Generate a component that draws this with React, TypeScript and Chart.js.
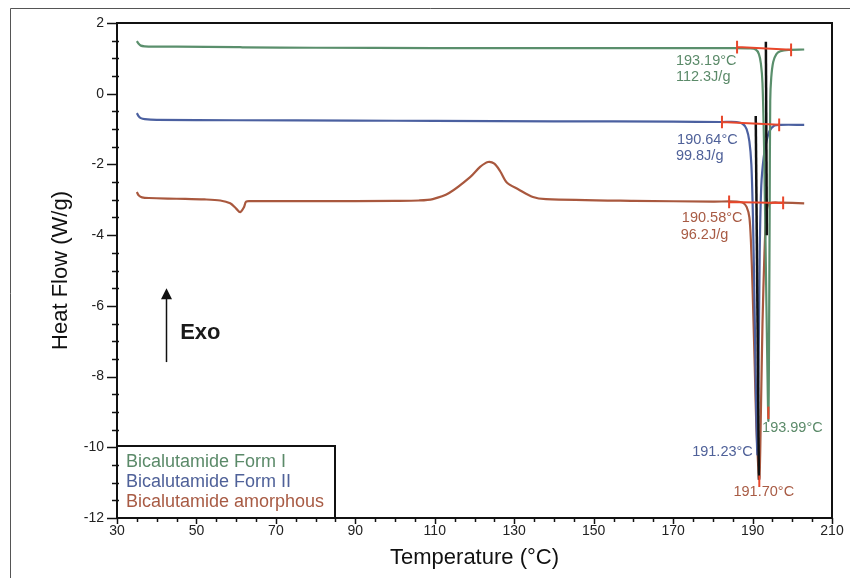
import React, { useEffect, useRef } from "react";
import { Chart, registerables } from "chart.js";

Chart.register(...registerables);

// ---------- data ----------
const seriesLabels = ["Bicalutamide Form I", "Bicalutamide Form II", "Bicalutamide amorphous"];

const formIX = [35, 35.4, 36, 37, 39, 45, 60, 62, 80, 110, 140, 170, 185, 189.5, 190.8, 191.6, 192.1, 192.5, 192.9, 193.3, 193.7, 193.99, 194.15, 194.3, 194.45, 194.7, 195.2, 196, 197, 199, 203];
const formIY = [1.49, 1.42, 1.36, 1.34, 1.33, 1.33, 1.32, 1.31, 1.30, 1.29, 1.29, 1.29, 1.29, 1.28, 1.25, 1.12, 0.85, 0.3, -1.5, -4.5, -7.5, -9.25, -7, -3.5, -0.2, 0.45, 0.9, 1.12, 1.2, 1.24, 1.25];

const formIIX = [35, 35.4, 36, 37, 40, 60, 90, 110, 140, 170, 182, 186, 187.5, 188.5, 189.2, 189.7, 190.1, 190.5, 190.9, 191.23, 191.5, 191.8, 192.2, 192.8, 193.5, 194.3, 195.5, 197, 203];
const formIIY = [-0.55, -0.63, -0.69, -0.72, -0.74, -0.75, -0.76, -0.77, -0.78, -0.79, -0.8, -0.8, -0.85, -1.0, -1.35, -2.0, -3.5, -6, -8.8, -10.2, -8.0, -4.5, -2.6, -1.8, -1.35, -1.05, -0.9, -0.88, -0.88];

const amorphX = [35, 35.5, 36.3, 38, 45, 52, 56, 58.5, 60, 61, 62, 62.5, 64, 80, 100, 106, 109.5, 113.6, 118.9, 121.4, 123.4, 125, 126.5, 128.2, 131, 134.7, 138, 160, 180, 186, 187.5, 188.5, 189.2, 189.6, 190.0, 190.5, 191.0, 191.7, 192.1, 192.5, 193.0, 193.4, 193.9, 195, 197, 203];
const amorphY = [-2.78, -2.88, -2.93, -2.95, -2.97, -2.99, -3.02, -3.1, -3.25, -3.35, -3.2, -3.05, -3.04, -3.04, -3.03, -3.02, -2.98, -2.81, -2.36, -2.07, -1.93, -1.98, -2.2, -2.52, -2.7, -2.92, -2.98, -3.03, -3.05, -3.05, -3.08, -3.2, -3.5, -4.2, -5.5, -7.5, -9.5, -10.9, -9.0, -6.5, -4.5, -3.5, -3.15, -3.08, -3.08, -3.1];

// onset tangent lines (black)
const tangentAX = [193.35, 193.6];
const tangentAY = [1.47, -4.0];
const tangentBX = [190.8, 191.6];
const tangentBY = [-0.63, -10.92];

// integration baselines (red): [x1, y1, x2, y2]
const baselineGreen = [186.1, 1.32, 199.7, 1.24];
const baselineBlue = [182.3, -0.80, 196.7, -0.88];
const baselineBrown = [184.1, -3.06, 197.7, -3.09];
// peak markers (red)
const peakMarkGreen = [193.97, -8.85, 193.99, -9.2];
const peakMarkBrown = [191.7, -10.8, 191.7, -11.12];

// annotation labels
const annText = ["193.19°C", "112.3J/g", "190.64°C", "99.8J/g", "190.58°C", "96.2J/g", "193.99°C", "191.23°C", "191.70°C"];
const annX = [170.7, 170.7, 171.0, 170.7, 172.2, 171.9, 192.4, 174.8, 185.2];
const annY = [0.93, 0.47, -1.31, -1.76, -3.52, -4.0, -9.45, -10.13, -11.26];
const annSeries = [0, 0, 1, 1, 2, 2, 0, 1, 2];

const xTickValues = [30, 50, 70, 90, 110, 130, 150, 170, 190, 210];
const yTickValues = [-12, -10, -8, -6, -4, -2, 0, 2];

// ---------- styles ----------
const lineColors = ["#5a8f6c", "#4b60a0", "#a9583e"];
const textColors = ["#5b8a69", "#4f6199", "#a85b44"];
const RED = "#e8472b";
const FONT = "Arial, 'Liberation Sans', Helvetica, sans-serif";

const pts = (xs: number[], ys: number[]) => xs.map((x, i) => ({ x, y: ys[i] }));
const baselinePts = (b: number[]) => {
  const h = 0.18;
  return [
    { x: b[0], y: b[1] + h }, { x: b[0], y: b[1] - h }, { x: b[0], y: NaN },
    { x: b[0], y: b[1] }, { x: b[2], y: b[3] }, { x: b[2], y: NaN },
    { x: b[2], y: b[3] + h }, { x: b[2], y: b[3] - h },
  ];
};
const segPts = (b: number[]) => [{ x: b[0], y: b[1] }, { x: b[2], y: b[3] }];

const decorPlugin = {
  id: "decor",
  afterDatasetsDraw(chart: any) {
    const { ctx, chartArea: a, scales } = chart;
    const x = scales.x, y = scales.y;
    ctx.save();
    // annotation texts
    ctx.font = `14.5px ${FONT}`;
    ctx.textAlign = "left";
    ctx.textBaseline = "middle";
    annText.forEach((t, i) => {
      ctx.fillStyle = textColors[annSeries[i]];
      ctx.fillText(t, x.getPixelForValue(annX[i]), y.getPixelForValue(annY[i]));
    });
    // Exo arrow
    const ax = Math.round(x.getPixelForValue(42.3)) + 0.5;
    const tip = y.getPixelForValue(-5.5);
    const bot = y.getPixelForValue(-7.59);
    ctx.strokeStyle = "#111";
    ctx.fillStyle = "#111";
    ctx.lineWidth = 1.5;
    ctx.beginPath();
    ctx.moveTo(ax, bot);
    ctx.lineTo(ax, tip + 8);
    ctx.stroke();
    ctx.beginPath();
    ctx.moveTo(ax, tip);
    ctx.lineTo(ax - 5.5, tip + 11);
    ctx.lineTo(ax + 5.5, tip + 11);
    ctx.closePath();
    ctx.fill();
    ctx.font = `bold 22px ${FONT}`;
    ctx.fillStyle = "#1a1a1a";
    ctx.fillText("Exo", x.getPixelForValue(45.9), y.getPixelForValue(-6.77));

    // legend box
    const lx = a.left, lb = a.bottom;
    ctx.fillStyle = "#fff";
    ctx.fillRect(lx, lb - 72, 218, 72);
    ctx.strokeStyle = "#111";
    ctx.lineWidth = 2;
    ctx.strokeRect(lx, lb - 72, 218, 72);
    ctx.font = `18px ${FONT}`;
    seriesLabels.forEach((s, i) => {
      ctx.fillStyle = textColors[i];
      ctx.fillText(s, lx + 9, lb - 56 + i * 20);
    });
    ctx.restore();
  },
  afterDraw(chart: any) {
    const { ctx, chartArea: a, scales } = chart;
    const x = scales.x, y = scales.y;
    ctx.save();
    // outer frame
    ctx.strokeStyle = "#555";
    ctx.lineWidth = 1;
    ctx.beginPath();
    ctx.moveTo(10.5, 578);
    ctx.lineTo(10.5, 8.5);
    ctx.lineTo(850, 8.5);
    ctx.stroke();
    // plot box
    ctx.strokeStyle = "#111";
    ctx.lineWidth = 2;
    ctx.strokeRect(a.left, a.top, a.right - a.left, a.bottom - a.top);
    // y ticks
    ctx.lineWidth = 1.5;
    for (let v = -12; v <= 2.001; v += 0.5) {
      const py = Math.round(y.getPixelForValue(v)) + 0.5;
      const major = Math.abs(v % 2) < 1e-6;
      ctx.beginPath();
      ctx.moveTo(a.left - (major ? 10 : 5), py);
      ctx.lineTo(a.left + (major ? 0 : 2), py);
      ctx.stroke();
    }
    // x ticks
    for (let v = 30; v <= 210.001; v += 5) {
      const px = Math.round(x.getPixelForValue(v)) + 0.5;
      const major = (v - 30) % 20 === 0;
      ctx.beginPath();
      ctx.moveTo(px, a.bottom);
      ctx.lineTo(px, a.bottom + (major ? 6 : 4));
      ctx.stroke();
    }
    ctx.restore();
  },
};

const zeroPad = (s: any) => {
  s.paddingTop = 0;
  s.paddingBottom = 0;
  s.paddingLeft = 0;
  s.paddingRight = 0;
};

export default function App() {
  const ref = useRef<HTMLCanvasElement>(null);
  useEffect(() => {
    const canvas = ref.current!;
    const curve = (label: string, xs: number[], ys: number[], color: string) => ({
      label, data: pts(xs, ys), borderColor: color, backgroundColor: color,
      borderWidth: 2.2, pointRadius: 0, showLine: true, tension: 0.3, order: 3,
    });
    const straight = (data: any[], color: string, width: number, order: number) => ({
      label: "", data, borderColor: color, backgroundColor: color, borderWidth: width,
      pointRadius: 0, showLine: true, tension: 0, spanGaps: false, order,
    });
    const chart = new Chart(canvas, {
      type: "scatter",
      data: {
        datasets: [
          curve(seriesLabels[0], formIX, formIY, lineColors[0]),
          curve(seriesLabels[1], formIIX, formIIY, lineColors[1]),
          curve(seriesLabels[2], amorphX, amorphY, lineColors[2]),
          straight(pts(tangentAX, tangentAY), "#111", 2.5, 2),
          straight(pts(tangentBX, tangentBY), "#111", 2.5, 2),
          straight(baselinePts(baselineGreen), RED, 2, 1),
          straight(baselinePts(baselineBlue), RED, 2, 1),
          straight(baselinePts(baselineBrown), RED, 2, 1),
          straight(segPts(peakMarkGreen), RED, 2, 1),
          straight(segPts(peakMarkBrown), RED, 2, 1),
        ] as any,
      },
      options: {
        animation: false,
        responsive: false,
        devicePixelRatio: 1,
        layout: { padding: { left: 10, top: 23, right: 18, bottom: 0 } },
        plugins: { legend: { display: false }, tooltip: { enabled: false } },
        scales: {
          x: {
            type: "linear",
            min: 30,
            max: 210,
            afterBuildTicks: (s: any) => { s.ticks = xTickValues.map((v) => ({ value: v })); },
            afterFit: (s: any) => { s.height = 60; zeroPad(s); },
            grid: { display: true, drawOnChartArea: false, drawTicks: false },
            border: { display: false },
            ticks: { padding: 5, color: "#222", font: { family: FONT, size: 14 }, maxRotation: 0, autoSkip: false },
            title: { display: true, text: "Temperature (°C)", color: "#111", font: { family: FONT, size: 22 }, padding: { top: 0, bottom: 7 } },
          },
          y: {
            type: "linear",
            min: -12,
            max: 2,
            afterBuildTicks: (s: any) => { s.ticks = yTickValues.map((v) => ({ value: v })); },
            afterFit: (s: any) => { s.width = 107; zeroPad(s); },
            grid: { display: true, drawOnChartArea: false, drawTicks: false },
            border: { display: false },
            ticks: { padding: 13, color: "#222", font: { family: FONT, size: 14 }, autoSkip: false },
            title: { display: true, text: "Heat Flow (W/g)", color: "#111", font: { family: FONT, size: 22 }, padding: { top: 38, bottom: 0 } },
          },
        },
      },
      plugins: [decorPlugin],
    } as any);
    return () => chart.destroy();
  }, []);
  return (
    <div style={{ position: "absolute", left: 0, top: 0, width: 850, height: 578, background: "#fff" }}>
      <canvas ref={ref} width={850} height={578} style={{ display: "block", width: 850, height: 578 }} />
    </div>
  );
}
